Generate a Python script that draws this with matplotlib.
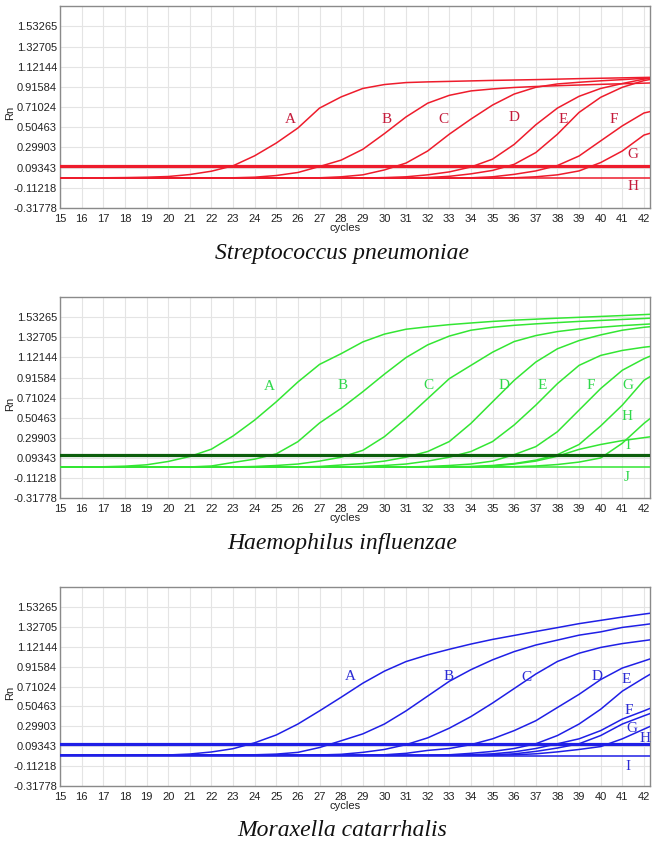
import numpy as np
import matplotlib.pyplot as plt

# amplification curves, Rn read per cycle (15..43, the plot is cut at ~42.3)
cycles = np.arange(15, 44)
yticks = [-0.31778, -0.11218, 0.09343, 0.29903, 0.50463, 0.71024,
          0.91584, 1.12144, 1.32705, 1.53265]

# Streptococcus pneumoniae
sp_A = [-0.010, -0.010, -0.010, -0.008, -0.004, 0.003, 0.023, 0.057, 0.112, 0.214, 0.344, 0.497, 0.700, 0.814,
        0.900, 0.940, 0.960, 0.967, 0.972, 0.977, 0.982, 0.986, 0.990, 0.995, 1.000, 1.004, 1.008, 1.012, 1.016]
sp_B = [-0.012, -0.012, -0.012, -0.012, -0.012, -0.012, -0.012, -0.012, -0.010, -0.004, 0.013, 0.044, 0.105, 0.170,
        0.280, 0.440, 0.610, 0.750, 0.830, 0.875, 0.895, 0.910, 0.920, 0.928, 0.935, 0.942, 0.948, 0.954, 0.960]
sp_C = [-0.013, -0.013, -0.013, -0.013, -0.013, -0.013, -0.013, -0.013, -0.013, -0.013, -0.013, -0.013, -0.010, 0.000,
        0.020, 0.070, 0.140, 0.263, 0.434, 0.588, 0.731, 0.843, 0.912, 0.946, 0.963, 0.978, 0.990, 1.003, 1.013]
sp_D = [-0.013, -0.013, -0.013, -0.013, -0.013, -0.013, -0.013, -0.013, -0.013, -0.013, -0.013, -0.013, -0.013, -0.013,
        -0.013, -0.008, 0.000, 0.020, 0.050, 0.100, 0.180, 0.330, 0.530, 0.700, 0.820, 0.900, 0.950, 0.995, 1.030]
sp_E = [-0.013, -0.013, -0.013, -0.013, -0.013, -0.013, -0.013, -0.013, -0.013, -0.013, -0.013, -0.013, -0.013, -0.013,
        -0.013, -0.013, -0.013, -0.008, 0.005, 0.030, 0.065, 0.127, 0.247, 0.434, 0.656, 0.810, 0.912, 0.980, 1.020]
sp_F = [-0.014, -0.014, -0.014, -0.014, -0.014, -0.014, -0.014, -0.014, -0.014, -0.014, -0.014, -0.014, -0.014, -0.014,
        -0.014, -0.014, -0.014, -0.014, -0.014, -0.010, 0.000, 0.025, 0.060, 0.115, 0.212, 0.366, 0.519, 0.650, 0.700]
sp_G = [-0.014, -0.014, -0.014, -0.014, -0.014, -0.014, -0.014, -0.014, -0.014, -0.014, -0.014, -0.014, -0.014, -0.014,
        -0.014, -0.014, -0.014, -0.014, -0.014, -0.014, -0.014, -0.010, 0.000, 0.020, 0.060, 0.145, 0.263, 0.425, 0.490]
sp_H = [-0.016, -0.016, -0.016, -0.016, -0.016, -0.016, -0.016, -0.016, -0.016, -0.016, -0.016, -0.016, -0.016, -0.016,
        -0.016, -0.016, -0.016, -0.016, -0.016, -0.016, -0.016, -0.016, -0.016, -0.016, -0.016, -0.016, -0.016, -0.016,
        -0.016]
sp_threshold = 0.113

# Haemophilus influenzae
hi_A = [0.000, 0.000, 0.002, 0.008, 0.022, 0.056, 0.107, 0.182, 0.317, 0.480, 0.667, 0.870, 1.050, 1.160,
        1.280, 1.360, 1.410, 1.435, 1.457, 1.474, 1.490, 1.503, 1.513, 1.523, 1.532, 1.541, 1.550, 1.560, 1.570]
hi_B = [0.000, 0.000, 0.000, 0.000, 0.000, 0.000, 0.000, 0.010, 0.046, 0.080, 0.134, 0.259, 0.450, 0.600,
        0.770, 0.950, 1.120, 1.250, 1.340, 1.400, 1.430, 1.450, 1.465, 1.478, 1.490, 1.500, 1.510, 1.520, 1.530]
hi_C = [0.000, 0.000, 0.000, 0.000, 0.000, 0.000, 0.000, 0.000, 0.000, 0.005, 0.015, 0.030, 0.060, 0.100,
        0.170, 0.310, 0.497, 0.700, 0.904, 1.040, 1.175, 1.284, 1.345, 1.386, 1.413, 1.430, 1.447, 1.460, 1.473]
hi_D = [0.000, 0.000, 0.000, 0.000, 0.000, 0.000, 0.000, 0.000, 0.000, 0.000, 0.000, 0.000, 0.005, 0.020,
        0.035, 0.060, 0.100, 0.158, 0.260, 0.446, 0.667, 0.887, 1.074, 1.210, 1.294, 1.352, 1.400, 1.430, 1.450]
hi_E = [0.000, 0.000, 0.000, 0.000, 0.000, 0.000, 0.000, 0.000, 0.000, 0.000, 0.000, 0.000, 0.000, 0.000,
        0.005, 0.015, 0.030, 0.060, 0.100, 0.158, 0.260, 0.430, 0.633, 0.853, 1.040, 1.142, 1.193, 1.226, 1.250]
hi_F = [0.000, 0.000, 0.000, 0.000, 0.000, 0.000, 0.000, 0.000, 0.000, 0.000, 0.000, 0.000, 0.000, 0.000,
        0.000, 0.000, 0.000, 0.005, 0.015, 0.030, 0.060, 0.126, 0.208, 0.361, 0.582, 0.803, 0.990, 1.108, 1.200]
hi_G = [0.000, 0.000, 0.000, 0.000, 0.000, 0.000, 0.000, 0.000, 0.000, 0.000, 0.000, 0.000, 0.000, 0.000,
        0.000, 0.000, 0.000, 0.000, 0.000, 0.005, 0.015, 0.035, 0.070, 0.126, 0.230, 0.420, 0.633, 0.887, 1.020]
hi_H = [0.000, 0.000, 0.000, 0.000, 0.000, 0.000, 0.000, 0.000, 0.000, 0.000, 0.000, 0.000, 0.000, 0.000,
        0.000, 0.000, 0.000, 0.000, 0.000, 0.000, 0.000, 0.003, 0.010, 0.025, 0.050, 0.092, 0.243, 0.446, 0.620]
hi_I = [0.000, 0.000, 0.000, 0.000, 0.000, 0.000, 0.000, 0.000, 0.000, 0.000, 0.000, 0.000, 0.000, 0.000,
        0.000, 0.000, 0.000, 0.000, 0.000, 0.000, 0.010, 0.030, 0.060, 0.110, 0.180, 0.230, 0.270, 0.300, 0.330]
hi_J = [-0.005, -0.005, -0.005, -0.005, -0.005, -0.005, -0.005, -0.005, -0.005, -0.005, -0.005, -0.005, -0.005, -0.005,
        -0.005, -0.005, -0.005, -0.005, -0.005, -0.005, -0.005, -0.005, -0.005, -0.005, -0.005, -0.005, -0.005, -0.005,
        -0.005]
hi_threshold = 0.124

# Moraxella catarrhalis
mc_A = [0.000, 0.000, 0.000, 0.000, 0.000, 0.003, 0.013, 0.034, 0.068, 0.129, 0.210, 0.323, 0.459, 0.600,
        0.745, 0.870, 0.969, 1.038, 1.096, 1.150, 1.198, 1.239, 1.280, 1.320, 1.361, 1.395, 1.429, 1.460, 1.490]
mc_B = [0.000, 0.000, 0.000, 0.000, 0.000, 0.000, 0.000, 0.000, 0.000, 0.005, 0.012, 0.030, 0.080, 0.150,
        0.221, 0.323, 0.459, 0.612, 0.765, 0.885, 0.987, 1.072, 1.140, 1.191, 1.242, 1.276, 1.322, 1.350, 1.380]
mc_C = [0.000, 0.000, 0.000, 0.000, 0.000, 0.000, 0.000, 0.000, 0.000, 0.000, 0.000, 0.000, 0.003, 0.010,
        0.030, 0.060, 0.110, 0.180, 0.280, 0.400, 0.540, 0.690, 0.840, 0.970, 1.055, 1.115, 1.155, 1.185, 1.215]
mc_D = [0.000, 0.000, 0.000, 0.000, 0.000, 0.000, 0.000, 0.000, 0.000, 0.000, 0.000, 0.000, 0.000, 0.000,
        0.000, 0.005, 0.020, 0.050, 0.070, 0.110, 0.170, 0.255, 0.357, 0.494, 0.630, 0.783, 0.902, 0.975, 1.050]
mc_E = [0.000, 0.000, 0.000, 0.000, 0.000, 0.000, 0.000, 0.000, 0.000, 0.000, 0.000, 0.000, 0.000, 0.000,
        0.000, 0.000, 0.000, 0.000, 0.005, 0.020, 0.040, 0.070, 0.119, 0.204, 0.323, 0.476, 0.663, 0.800, 0.930]
mc_F = [0.000, 0.000, 0.000, 0.000, 0.000, 0.000, 0.000, 0.000, 0.000, 0.000, 0.000, 0.000, 0.000, 0.000,
        0.000, 0.000, 0.000, 0.000, 0.000, 0.005, 0.015, 0.035, 0.070, 0.119, 0.170, 0.255, 0.374, 0.459, 0.550]
mc_G = [0.000, 0.000, 0.000, 0.000, 0.000, 0.000, 0.000, 0.000, 0.000, 0.000, 0.000, 0.000, 0.000, 0.000,
        0.000, 0.000, 0.000, 0.000, 0.000, 0.000, 0.005, 0.015, 0.040, 0.075, 0.119, 0.204, 0.323, 0.408, 0.490]
mc_H = [0.000, 0.000, 0.000, 0.000, 0.000, 0.000, 0.000, 0.000, 0.000, 0.000, 0.000, 0.000, 0.000, 0.000,
        0.000, 0.000, 0.000, 0.000, 0.000, 0.000, 0.000, 0.005, 0.015, 0.035, 0.060, 0.090, 0.170, 0.270, 0.370]
mc_I = [-0.003, -0.003, -0.003, -0.003, -0.003, -0.003, -0.003, -0.003, -0.003, -0.003, -0.003, -0.003, -0.003, -0.003,
        -0.003, -0.003, -0.003, -0.003, -0.003, -0.003, -0.003, -0.003, -0.003, -0.003, -0.003, -0.003, -0.003, -0.003,
        -0.003]
mc_threshold = 0.119

plt.rcParams['font.family'] = ['Liberation Sans', 'DejaVu Sans']

fig = plt.figure(figsize=(6.6, 8.41), dpi=100)


def px_axes(left, top, w, h):
    return fig.add_axes([left / 660, 1 - (top + h) / 841, w / 660, h / 841])


def draw_panel(ax, curves, thr, color, thr_color, lab_color, labels):
    for y in curves:
        ax.plot(cycles, y, color=color, lw=1.1, zorder=3)
    ax.axhline(thr, color=thr_color, lw=2.3, zorder=4)
    for s, x, y in labels:
        ax.text(x, y, s, color=lab_color, fontsize=11, family='Liberation Serif',
                ha='center', va='center', zorder=5)
    ax.set_xlim(15, 42.28)
    ax.set_ylim(-0.31778, 1.74)
    ax.set_xticks(cycles[:-1])
    ax.set_yticks(yticks)
    ax.set_yticklabels(['%.5f' % v for v in yticks])
    ax.tick_params(length=0, labelsize=8, labelcolor='#222222')
    ax.tick_params(axis='x', pad=4.2)
    ax.tick_params(axis='y', pad=2.2)
    ax.grid(True, color='#e4e4e4', lw=0.8)
    ax.set_axisbelow(True)
    for sp in ax.spines.values():
        sp.set_color('#8a8a8a')
        sp.set_linewidth(1.0)


panels = [
    (6, 202, [sp_A, sp_B, sp_C, sp_D, sp_E, sp_F, sp_G, sp_H], sp_threshold,
     '#ee1c2c', '#ee1c2c', '#c41a3a',
     [('A', 25.67, 0.587), ('B', 30.1, 0.587), ('C', 32.72, 0.587), ('D', 35.99, 0.605),
      ('E', 38.27, 0.587), ('F', 40.61, 0.587), ('G', 41.51, 0.229), ('H', 41.51, -0.095)],
     'Streptococcus pneumoniae'),
    (297, 201, [hi_A, hi_B, hi_C, hi_D, hi_E, hi_F, hi_G, hi_H, hi_I, hi_J], hi_threshold,
     '#33e633', '#0c5e0c', '#2ed84a',
     [('A', 24.68, 0.826), ('B', 28.07, 0.836), ('C', 32.03, 0.836), ('D', 35.53, 0.836),
      ('E', 37.3, 0.836), ('F', 39.55, 0.836), ('G', 41.24, 0.836), ('H', 41.24, 0.521),
      ('I', 41.24, 0.219), ('J', 41.2, -0.113)],
     'Haemophilus influenzae'),
    (587, 199, [mc_A, mc_B, mc_C, mc_D, mc_E, mc_F, mc_G, mc_H, mc_I], mc_threshold,
     '#1f1fe6', '#1f1fe6', '#2a2ad4',
     [('A', 28.44, 0.81), ('B', 32.95, 0.817), ('C', 36.58, 0.80), ('D', 39.81, 0.817),
      ('E', 41.2, 0.783), ('F', 41.28, 0.459), ('G', 41.43, 0.272), ('H', 42.05, 0.177),
      ('I', 41.28, -0.119)],
     'Moraxella catarrhalis'),
]

for top, h, curves, thr, col, thr_col, lab_col, labels, title in panels:
    ax = px_axes(60, top, 590, h)
    draw_panel(ax, curves, thr, col, thr_col, lab_col, labels)
    fig.text(10 / 660, 1 - (top + h * 0.53) / 841, 'Rn', rotation=90, fontsize=8,
             ha='center', va='center', color='#222222')
    fig.text(345 / 660, 1 - (top + h + 20) / 841, 'cycles', fontsize=8,
             ha='center', va='center', color='#222222')
    fig.text(342 / 660, 1 - (top + h + 45) / 841, title, fontsize=17, style='italic',
             family='Liberation Serif', ha='center', va='center', color='#111111')

fig.savefig('out.png', dpi=100, facecolor='white')
